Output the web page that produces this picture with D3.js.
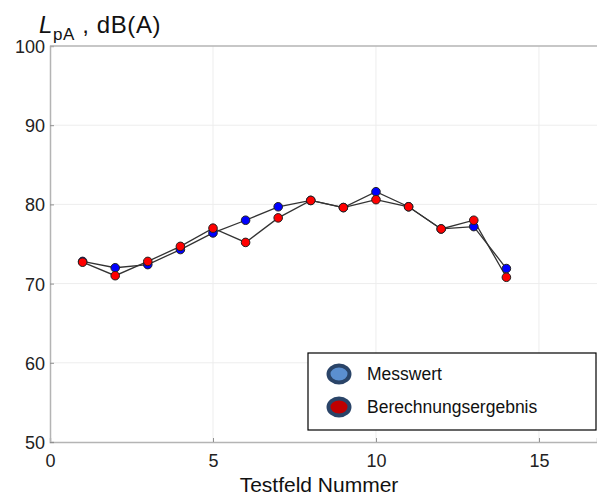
<!DOCTYPE html>
<html>
<head>
<meta charset="utf-8">
<script src="https://cdn.jsdelivr.net/npm/d3@7"></script>
<style>
  body { margin: 0; background: #fff; }
  svg { font-family: "Liberation Sans", Arial, sans-serif; }
</style>
</head>
<body>
<svg id="chart" width="597" height="496"></svg>
<script>
const testfeld = [1, 2, 3, 4, 5, 6, 7, 8, 9, 10, 11, 12, 13, 14];
const messwert = [72.8, 72.0, 72.4, 74.3, 76.4, 78.0, 79.7, 80.5, 79.6, 81.6, 79.7, 76.9, 77.2, 71.9];
const berechnung = [72.7, 71.0, 72.8, 74.7, 77.0, 75.2, 78.3, 80.5, 79.6, 80.6, 79.7, 76.9, 78.0, 70.8];
const xTicks = [0, 5, 10, 15];
const yTicks = [50, 60, 70, 80, 90, 100];
const legendLabels = ["Messwert", "Berechnungsergebnis"];

const svg = d3.select("#chart");
const plotLeft = 50, plotRight = 597, plotTop = 46, plotBottom = 442;

const x = d3.scaleLinear().domain([0, 16.78]).range([plotLeft, plotRight]);
const y = d3.scaleLinear().domain([50, 100]).range([plotBottom, plotTop]);

// grid
const grid = svg.append("g").attr("class", "grid");
grid.selectAll("line.gx")
  .data(xTicks.slice(1))
  .enter()
  .append("line")
  .attr("x1", (d) => x(d)).attr("x2", (d) => x(d))
  .attr("y1", plotTop).attr("y2", plotBottom)
  .attr("stroke", "#ededed")
  .attr("stroke-width", 1);
grid.selectAll("line.gy")
  .data(yTicks.slice(1, -1))
  .enter()
  .append("line")
  .attr("x1", plotLeft).attr("x2", plotRight)
  .attr("y1", (d) => y(d)).attr("y2", (d) => y(d))
  .attr("stroke", "#ededed")
  .attr("stroke-width", 1);

// axes
const xAxis = svg.append("g")
  .attr("transform", `translate(0,${plotBottom})`)
  .call(d3.axisBottom(x).tickValues(xTicks).tickSize(-4).tickPadding(10).tickFormat(d3.format("d")));
const yAxis = svg.append("g")
  .attr("transform", `translate(${plotLeft},0)`)
  .call(d3.axisLeft(y).tickValues(yTicks).tickSize(-4).tickPadding(5).tickFormat(d3.format("d")));

[xAxis, yAxis].forEach((a) => {
  a.select(".domain").attr("stroke", "#b4b4b4").attr("stroke-width", 1.5);
  a.selectAll(".tick line").attr("stroke", "#909090");
  a.selectAll(".tick text").attr("fill", "#222").style("font-size", "18px");
});
xAxis.selectAll(".tick text").attr("dy", "0.82em");
yAxis.selectAll(".tick text").attr("dy", "0.36em");

// top border
svg.append("line")
  .attr("x1", plotLeft).attr("x2", plotRight)
  .attr("y1", plotTop).attr("y2", plotTop)
  .attr("stroke", "#b4b4b4")
  .attr("stroke-width", 1.5);

// series
const series = [
  { values: messwert, color: "#0000ff" },
  { values: berechnung, color: "#ff0000" }
];
const line = d3.line().x((d) => x(d[0])).y((d) => y(d[1]));

series.forEach((s) => {
  const pts = testfeld.map((t, i) => [t, s.values[i]]);
  svg.append("path")
    .datum(pts)
    .attr("d", line)
    .attr("fill", "none")
    .attr("stroke", "#333")
    .attr("stroke-width", 1.3);
});
series.forEach((s) => {
  const pts = testfeld.map((t, i) => [t, s.values[i]]);
  svg.append("g")
    .selectAll("circle")
    .data(pts)
    .enter()
    .append("circle")
    .attr("cx", (d) => x(d[0]))
    .attr("cy", (d) => y(d[1]))
    .attr("r", 4.3)
    .attr("fill", s.color)
    .attr("stroke", "#222")
    .attr("stroke-width", 1);
});

// legend
const legend = svg.append("g").attr("transform", "translate(308,353)");
legend.append("rect")
  .attr("width", 288).attr("height", 77)
  .attr("fill", "#fff")
  .attr("stroke", "#000")
  .attr("stroke-width", 1.2);
const legendFill = ["#5b8fd0", "#c00000"];
legendLabels.forEach((lbl, i) => {
  const g = legend.append("g").attr("transform", `translate(0,${21 + i * 33})`);
  g.append("ellipse")
    .attr("cx", 31).attr("cy", 0)
    .attr("rx", 10.5).attr("ry", 8.5)
    .attr("fill", legendFill[i])
    .attr("stroke", "#2a4468")
    .attr("stroke-width", 4);
  g.append("text")
    .attr("x", 59).attr("y", 0).attr("dy", "0.36em")
    .attr("fill", "#111")
    .style("font-size", "17.5px")
    .text(lbl);
});

// axis titles
const yTitle = svg.append("text")
  .attr("x", 39).attr("y", 33)
  .attr("fill", "#111")
  .style("font-size", "24px")
  .style("letter-spacing", "0.6px");
yTitle.append("tspan").style("font-style", "italic").text("L");
yTitle.append("tspan").attr("dy", 7).style("font-size", "17px").text("pA");
yTitle.append("tspan").attr("dy", -7).text(" , dB(A)");

svg.append("text")
  .attr("x", 319).attr("y", 492)
  .attr("text-anchor", "middle")
  .attr("fill", "#111")
  .style("font-size", "21px")
  .text("Testfeld Nummer");
</script>
</body>
</html>
